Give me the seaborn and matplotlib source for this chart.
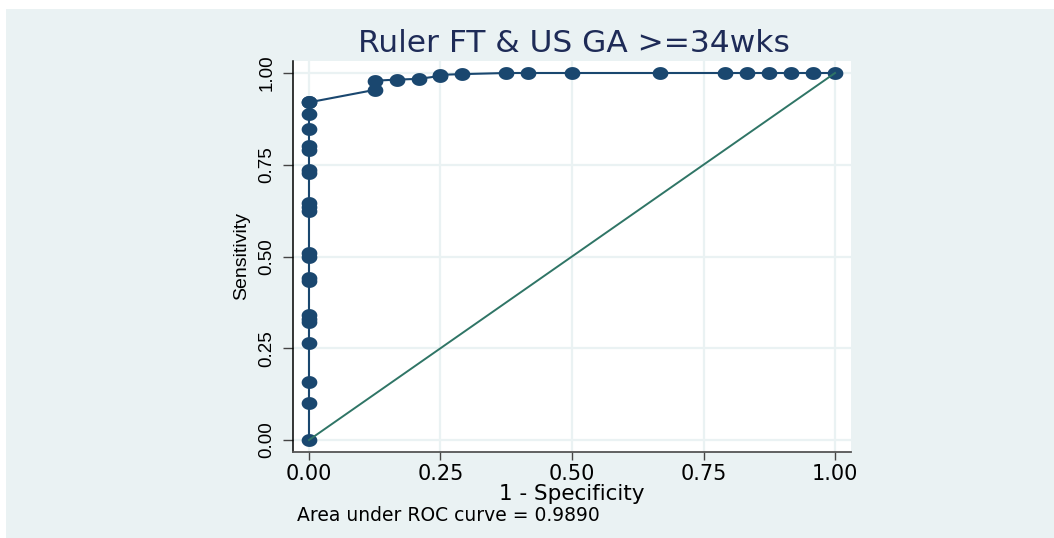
import numpy as np
import pandas as pd
import matplotlib
matplotlib.use("Agg")
import matplotlib.pyplot as plt
from matplotlib.path import Path
from matplotlib.patches import Rectangle
import seaborn as sns

# ---- data ----
fpr = [0, 0, 0, 0, 0, 0, 0, 0, 0, 0, 0, 0, 0, 0, 0, 0, 0, 0, 0, 0, 0, 0,
       0.125, 0.125, 0.1667, 0.2083, 0.25, 0.25, 0.2917, 0.375, 0.4167, 0.5,
       0.6667, 0.7917, 0.8333, 0.875, 0.9167, 0.9583, 1.0]
sensitivity = [0.0, 0.102, 0.159, 0.265, 0.322, 0.330, 0.340, 0.432, 0.441,
               0.500, 0.510, 0.624, 0.635, 0.645, 0.728, 0.737, 0.790, 0.800,
               0.847, 0.889, 0.920, 0.920,
               0.954, 0.979, 0.982, 0.984, 0.992, 0.995, 0.997, 1.0, 1.0, 1.0,
               1.0, 1.0, 1.0, 1.0, 1.0, 1.0, 1.0]
ref_x = [0.0, 1.0]
ref_y = [0.0, 1.0]
ticks = [0.0, 0.25, 0.5, 0.75, 1.0]
tick_labels = ["0.00", "0.25", "0.50", "0.75", "1.00"]
title = "Ruler FT & US GA >=34wks"
xlabel = "1 - Specificity"
ylabel = "Sensitivity"
note = "Area under ROC curve = 0.9890"

NAVY = "#1A476F"
TEAL = "#2F7566"
BG = "#EAF2F3"
W, H = 1054, 538

roc = pd.DataFrame({"fpr": fpr, "sens": sensitivity})
ref = pd.DataFrame({"x": ref_x, "y": ref_y})

fig = plt.figure(figsize=(W / 100, H / 100), dpi=100, facecolor="white")
fig.patches.append(Rectangle((6 / W, 0), 1 - 6 / W, 1 - 9 / H,
                             transform=fig.transFigure, facecolor=BG,
                             edgecolor="none", zorder=-10))

ax = fig.add_axes([293 / W, 1 - 452 / H, (851 - 293) / W, (452 - 61) / H])
ax.set_facecolor("white")

# ellipse marker (wider than tall)
t = np.linspace(0, 2 * np.pi, 60)
ell = Path(np.column_stack([np.cos(t), 0.82 * np.sin(t)]), closed=True)

sns.lineplot(data=roc, x="fpr", y="sens", estimator=None, sort=True, ax=ax,
             color=NAVY, linewidth=1.5, marker=ell, markersize=11.3,
             markeredgewidth=0, zorder=3)
sns.lineplot(data=ref, x="x", y="y", estimator=None, ax=ax, color=TEAL,
             linewidth=1.4, zorder=4)

ax.set_xlim(-0.0304, 1.0304)
ax.set_ylim(-0.0327, 1.0327)
ax.set_xticks(ticks)
ax.set_yticks(ticks)
ax.set_xticklabels(tick_labels, fontsize=15, family="DejaVu Sans", color="black")
ax.set_yticklabels(tick_labels, fontsize=13.5, family="Liberation Sans",
                   color="black", rotation=90, va="center")
ax.tick_params(axis="x", length=5.5, width=1, color="#444444", pad=3.5)
ax.tick_params(axis="y", length=7.5, width=1, color="#444444", pad=5)
ax.grid(True, color=BG, linewidth=1.6)
ax.set_axisbelow(True)

for s in ["top", "right"]:
    ax.spines[s].set_visible(False)
ax.spines["left"].set_color("black")
ax.spines["left"].set_linewidth(1.1)
ax.spines["bottom"].set_color("#555555")
ax.spines["bottom"].set_linewidth(1.3)

ax.set_xlabel(xlabel, fontsize=15.5, family="DejaVu Sans", labelpad=0)
ax.set_ylabel(ylabel, fontsize=14, family="Liberation Sans", labelpad=6)

fig.text(573.5 / W, 1 - 52 / H, title, ha="center", va="baseline",
         fontsize=22.5, family="DejaVu Sans", color="#1E2B57")
fig.text(297 / W, 1 - 521 / H, note, ha="left", va="baseline",
         fontsize=13.5, family="DejaVu Sans", color="black")

fig.savefig("out.png", dpi=100, facecolor="white")
